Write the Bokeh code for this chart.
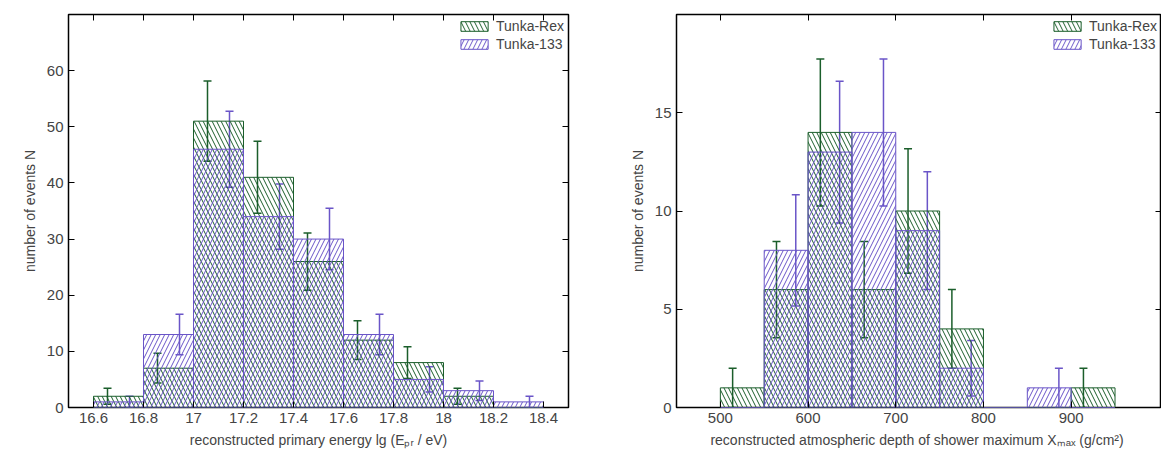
from bokeh.plotting import figure
from bokeh.layouts import row
from bokeh.models import ColumnDataSource, Whisker, TeeHead, Legend, LegendItem, LinearAxis, Range1d
from bokeh.embed import file_html
from bokeh.resources import INLINE
import numpy as np

# energy histogram, bins of 0.2 starting at 16.6
energy_edges = [16.6, 16.8, 17.0, 17.2, 17.4, 17.6, 17.8, 18.0, 18.2, 18.4]
energy_rex = [2, 7, 51, 41, 26, 12, 8, 2, 0]
energy_133 = [1, 13, 46, 34, 30, 13, 5, 3, 1]

# Xmax histogram, bins of 50 g/cm2 starting at 500
xmax_edges = [500, 550, 600, 650, 700, 750, 800, 850, 900, 950]
xmax_rex = [1, 6, 14, 6, 10, 4, 0, 0, 1]
xmax_133 = [0, 8, 13, 14, 9, 2, 0, 1, 0]

energy_ticks = [16.6, 16.8, 17.0, 17.2, 17.4, 17.6, 17.8, 18.0, 18.2, 18.4]
energy_tick_labels = ["16.6", "16.8", "17", "17.2", "17.4", "17.6", "17.8", "18", "18.2", "18.4"]

GREEN = "#1b5e2b"
PURPLE = "#6a55c8"
FONT = "Liberation Sans"


def make_hist(edges, rex, t133, x_range, y_range, xlabel, xticks, yticks, border_left, border_right, frame_w):
    p = figure(frame_width=frame_w, frame_height=393, x_range=x_range, y_range=y_range,
               output_backend="svg", toolbar_location=None, tools="",
               min_border_left=border_left, min_border_right=border_right,
               min_border_top=14, min_border_bottom=40)
    p.grid.visible = False
    p.outline_line_color = "black"
    p.outline_line_width = 1.5

    e = np.array(edges, dtype=float)
    w = e[1:] - e[:-1]
    rex = np.array(rex, dtype=float)
    t133 = np.array(t133, dtype=float)

    src_rex = ColumnDataSource(dict(left=e[:-1], right=e[1:], top=rex))
    src_133 = ColumnDataSource(dict(left=e[:-1], right=e[1:], top=t133))
    r1 = p.quad(left="left", right="right", bottom=0, top="top", source=src_rex,
                fill_alpha=0, line_color=GREEN, line_width=1,
                hatch_pattern="left_diagonal_line", hatch_color=GREEN, hatch_scale=9, hatch_weight=1)
    r2 = p.quad(left="left", right="right", bottom=0, top="top", source=src_133,
                fill_alpha=0, line_color=PURPLE, line_width=1,
                hatch_pattern="right_diagonal_line", hatch_color=PURPLE, hatch_scale=9, hatch_weight=1)

    for vals, frac, col in ((rex, 0.28, GREEN), (t133, 0.72, PURPLE)):
        m = vals > 0
        err = np.sqrt(vals[m])
        src = ColumnDataSource(dict(x=(e[:-1] + frac * w)[m], lo=vals[m] - err, hi=vals[m] + err))
        wh = Whisker(base="x", lower="lo", upper="hi", source=src, line_color=col, line_width=1.5,
                     upper_head=TeeHead(size=8, line_color=col, line_width=1.5),
                     lower_head=TeeHead(size=8, line_color=col, line_width=1.5))
        p.add_layout(wh)

    for ax in (p.xaxis[0], p.yaxis[0]):
        ax.major_label_text_font = FONT
        ax.major_label_text_font_size = "15px"
        ax.axis_label_text_font = FONT
        ax.axis_label_text_font_size = "14px"
        ax.axis_label_text_font_style = "normal"
        ax.axis_label_standoff = 6
        ax.minor_tick_line_color = None
        ax.major_tick_in = 6
        ax.major_tick_out = 0
    p.xaxis.axis_label = xlabel
    p.yaxis.axis_label = "number of events N"
    p.xaxis.ticker = xticks
    p.yaxis.ticker = yticks
    p.axis.axis_line_color = None

    top = LinearAxis(ticker=xticks, major_label_text_font_size="0px", minor_tick_line_color=None,
                     major_tick_in=6, major_tick_out=0, axis_line_color=None, major_label_standoff=0)
    right = LinearAxis(ticker=yticks, major_label_text_font_size="0px", minor_tick_line_color=None,
                       major_tick_in=6, major_tick_out=0, axis_line_color=None, major_label_standoff=0)
    p.add_layout(top, "above")
    p.add_layout(right, "right")

    legend = Legend(items=[LegendItem(label="Tunka-Rex", renderers=[r1]),
                           LegendItem(label="Tunka-133", renderers=[r2])],
                    location="top_right", border_line_color=None, background_fill_alpha=0,
                    label_text_font=FONT, label_text_font_size="14px",
                    glyph_width=34, glyph_height=12, spacing=2, padding=2, margin=4,
                    label_height=15)
    p.add_layout(legend)
    return p


left = make_hist(energy_edges, energy_rex, energy_133, Range1d(16.5, 18.5), Range1d(0, 70),
                 "reconstructed primary energy lg (Eₚᵣ / eV)", energy_ticks,
                 [0, 10, 20, 30, 40, 50, 60], 68, 40, 500)
left.xaxis[0].major_label_overrides = dict(zip(energy_ticks, energy_tick_labels))

right = make_hist(xmax_edges, xmax_rex, xmax_133, Range1d(450, 1003), Range1d(0, 20),
                  "reconstructed atmospheric depth of shower maximum Xₘₐₓ  (g/cm²)",
                  [500, 600, 700, 800, 900], [0, 5, 10, 15], 68, 0, 485)

layout = row(left, right)
open("out.html", "w").write(file_html(layout, INLINE))
